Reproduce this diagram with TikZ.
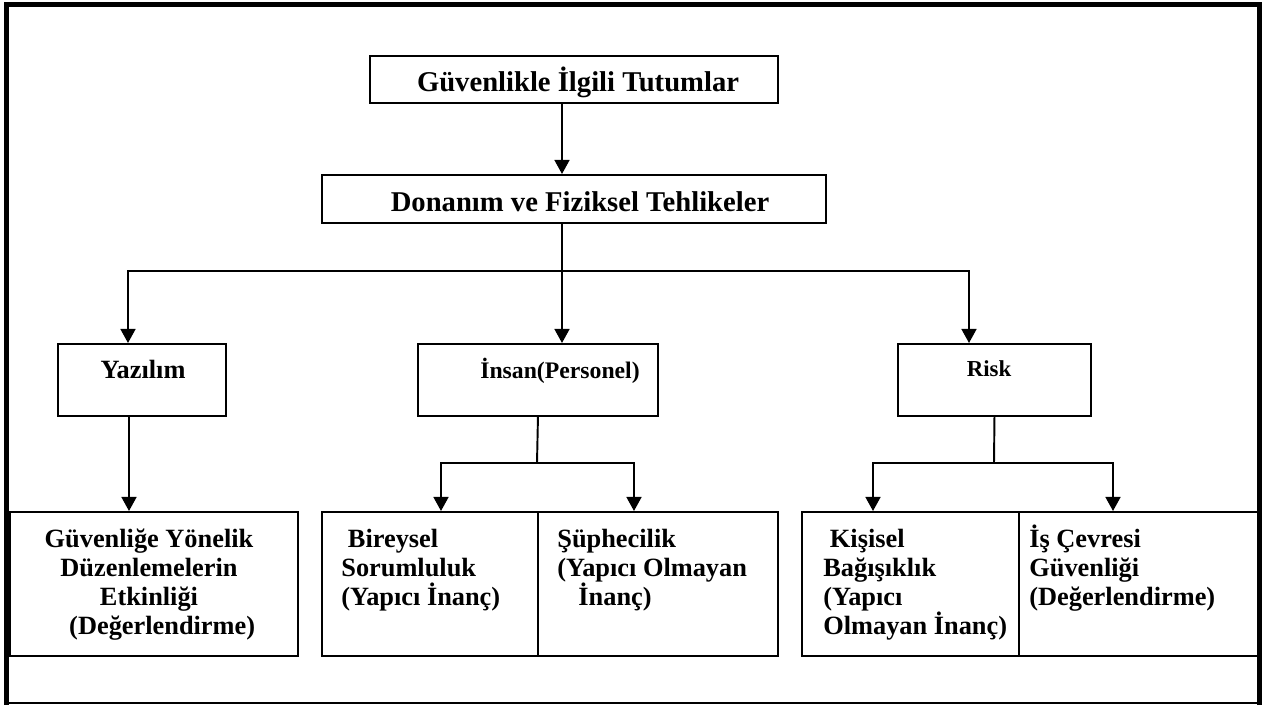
\documentclass[tikz,border=0pt]{standalone}
\usepackage{fontspec}
\setmainfont{Liberation Serif}
\usetikzlibrary{arrows.meta}
\newcommand{\pxu}{0.02cm}
\tikzset{
  box/.style={draw, line width=1.1pt, inner sep=0pt, anchor=north west},
  arr/.style={line width=1.1pt, -{Triangle[length=8pt,width=8.5pt]}},
  con/.style={line width=1.1pt},
  txt/.style={inner sep=0pt, font=\fontsize{15}{16.4}\selectfont\bfseries},
  head/.style={txt, font=\fontsize{16.3}{18}\selectfont\bfseries, anchor=base},
}
\begin{document}
\begin{tikzpicture}[x=0.02cm, y=-0.02cm]
\useasboundingbox (0,0) rectangle (1268,705);
% frame
\draw[line width=1.1pt] (4,703) -- (1262,703);
\draw[line width=2.8pt] (6.5,705) -- (6.5,4.5) -- (1259.5,4.5) -- (1259.5,705);

% boxes
\node[box, minimum width=408*\pxu, minimum height=47*\pxu] (ust) at (369,55) {};
\node[box, minimum width=504*\pxu, minimum height=48*\pxu] (don) at (321,174) {};
\node[box, minimum width=168*\pxu, minimum height=72*\pxu] (yaz) at (57,343) {};
\node[box, minimum width=240*\pxu, minimum height=72*\pxu] (ins) at (417,343) {};
\node[box, minimum width=193*\pxu, minimum height=72*\pxu] (rsk) at (897,343) {};
\node[box, minimum width=288*\pxu, minimum height=144*\pxu] (gyd) at (9,511) {};
\node[box, minimum width=216*\pxu, minimum height=144*\pxu] (bir) at (321,511) {};
\node[box, minimum width=240*\pxu, minimum height=144*\pxu] (sup) at (537,511) {};
\node[box, minimum width=217*\pxu, minimum height=144*\pxu] (kis) at (801,511) {};
\node[box, minimum width=239*\pxu, minimum height=144*\pxu] (isc) at (1018,511) {};

% texts (base = last line)
\node[head] (ustT) at (578,92) {Güvenlikle İlgili Tutumlar};
\node[head] (donT) at (580,212) {Donanım ve Fiziksel Tehlikeler};
\node[txt, anchor=base] (yazT) at (143,379) {Yazılım};
\node[txt, font=\fontsize{13.5}{16}\selectfont\bfseries, anchor=base] (insT) at (560,379) {İnsan(Personel)};
\node[txt, font=\fontsize{13}{16}\selectfont\bfseries, anchor=base] (rskT) at (989,377) {Risk};
\node[txt, align=center, anchor=base] (gydT) at (149,634)
  {Güvenliğe Yönelik\\Düzenlemelerin\\Etkinliği\hspace*{1.1em}\\\hspace*{1em}(Değerlendirme)};
\node[txt, align=left, anchor=base west] (birT) at (341,605)
  {\hspace*{0.25em}Bireysel\\Sorumluluk\\(Yapıcı İnanç)};
\node[txt, align=left, anchor=base west] (supT) at (557,605)
  {Şüphecilik\\(Yapıcı Olmayan\\\hspace*{0.8em}İnanç)};
\node[txt, align=left, anchor=base west] (kisT) at (823,634)
  {\hspace*{0.25em}Kişisel\\Bağışıklık\\(Yapıcı\\Olmayan İnanç)};
\node[txt, align=left, anchor=base west] (iscT) at (1029,605)
  {İş Çevresi\\Güvenliği\\(Değerlendirme)};

% connectors
\coordinate (dal) at (562,271);
\coordinate (dalB) at (537,463);
\coordinate (dalC) at (994,463);
\draw[arr] ([xshift=193*\pxu]ust.south west) -- ([xshift=241*\pxu]don.north west);
\draw[con] ([xshift=241*\pxu]don.south west) -- (dal);
\draw[arr] (dal) -| ([xshift=71*\pxu]yaz.north west);
\draw[arr] (dal) -- ([xshift=145*\pxu]ins.north west);
\draw[arr] (dal) -| ([xshift=72*\pxu]rsk.north west);
\draw[arr] ([xshift=72*\pxu]yaz.south west) -- ([xshift=120*\pxu]gyd.north west);
\draw[con] (ins.south) -- (dalB);
\draw[arr] (dalB) -| ([xshift=120*\pxu]bir.north west);
\draw[arr] (dalB) -| ([xshift=97*\pxu]sup.north west);
\draw[con] (rsk.south) -- (dalC);
\draw[arr] (dalC) -| ([xshift=72*\pxu]kis.north west);
\draw[arr] (dalC) -| ([xshift=95*\pxu]isc.north west);
\end{tikzpicture}
\end{document}
